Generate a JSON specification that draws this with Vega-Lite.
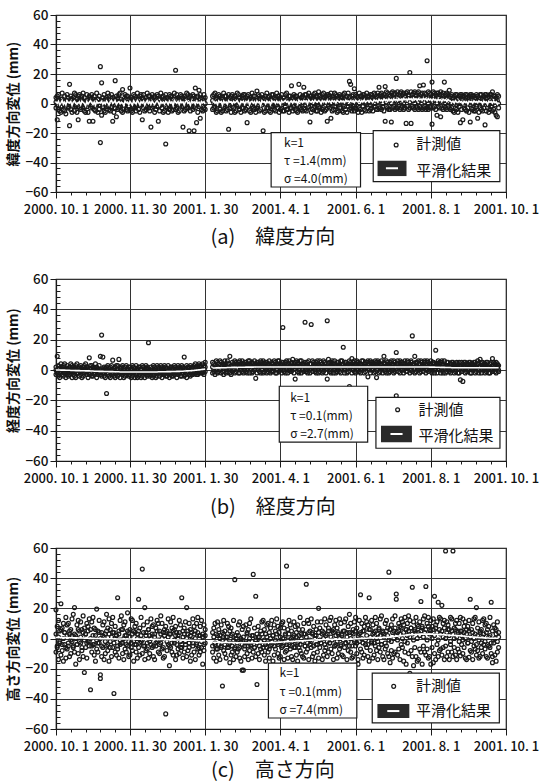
{
"$schema": "https://vega.github.io/schema/vega-lite/v6.json",
"background": "white",
"padding": {"left": 6, "top": 7, "right": 0, "bottom": 0},
"bounds": "flush",
"spacing": 87,
"config": {
 "font": "Noto Sans CJK JP",
 "view": {"stroke": "#1a1a1a", "strokeWidth": 1.2},
 "axis": {"domainColor": "#1a1a1a", "domainWidth": 1.2, "tickColor": "#1a1a1a", "tickWidth": 1, "tickSize": 6, "gridColor": "#333", "gridWidth": 1, "gridOpacity": 1, "labelColor": "#111", "labelFont": "Noto Sans CJK JP", "labelFontWeight": 500, "titleFont": "Noto Sans CJK JP", "titleColor": "#111", "labelPadding": 2},
 "axisX": {"labelFontSize": 13, "labelPadding": 5},
 "axisY": {"labelFontSize": 13.5, "titleFontSize": 14, "titleFontWeight": "bold", "titlePadding": 4},
 "point": {"filled": false, "size": 15, "color": "#1a1a1a", "strokeWidth": 1.25, "opacity": 1},
 "line": {"color": "white", "strokeWidth": 1.6},
 "rect": {"color": "white", "stroke": "#1a1a1a", "strokeWidth": 1.2},
 "text": {"align": "left", "baseline": "middle", "fontSize": 12, "color": "#111", "font": "Noto Sans CJK JP"},
 "rule": {"color": "white", "strokeWidth": 2},
 "title": {"fontSize": 20, "fontWeight": "normal", "color": "#111", "orient": "bottom", "anchor": "middle", "frame": "bounds", "font": "Noto Sans CJK JP"}
},
"datasets": {"gps": [
{"t":0,"n1":4,"n2":-3,"n3":1,"e1":2,"e2":-3,"e3":0,"h1":19,"h2":-9,"h3":3,"ns":1.2,"es":0,"hs":0.7},
{"t":1,"n1":-11,"n2":5,"n3":-1,"e1":9,"e2":-2,"e3":-1,"h1":-6,"h2":8,"h3":-5,"ns":0.1,"es":0,"hs":0.7},
{"t":2,"n1":6,"n2":-4,"n3":2,"e1":-4,"e2":3,"e3":1,"h1":12,"h2":-14,"h3":1,"ns":1.5,"es":0,"hs":0.7},
{"t":3,"n1":-5,"n2":2,"n3":0,"e1":1,"e2":-5,"e3":-2,"h1":-3,"h2":5,"h3":-2,"ns":-0.8,"es":0,"hs":0.7},
{"t":4,"n1":3,"n2":-6,"n3":-2,"e1":4,"e2":-1,"e3":0,"h1":23,"h2":-11,"h3":6,"ns":0.4,"es":-0.1,"hs":0.6},
{"t":5,"n1":7,"n2":-2,"n3":3,"e1":-3,"e2":2,"e3":1,"h1":7,"h2":-8,"h3":-4,"ns":2.0,"es":-0.1,"hs":0.6},
{"t":6,"n1":-4,"n2":1,"n3":1,"e1":3,"e2":-4,"e3":-1,"h1":-15,"h2":10,"h3":0,"ns":-0.5,"es":-0.1,"hs":0.6},
{"t":7,"n1":5,"n2":-5,"n3":-1,"e1":-2,"e2":4,"e3":0,"h1":4,"h2":-4,"h3":4,"ns":0.9,"es":-0.1,"hs":0.6},
{"t":8,"n1":2,"n2":-7,"n3":0,"e1":0,"e2":-5,"e3":-2,"h1":14,"h2":-13,"h3":-6,"ns":-1.0,"es":-0.2,"hs":0.6},
{"t":9,"n1":6,"n2":-1,"n3":2,"e1":3,"e2":-3,"e3":1,"h1":-7,"h2":9,"h3":2,"ns":1.8,"es":-0.2,"hs":0.5},
{"t":10,"n1":-3,"n2":4,"n3":-2,"e1":-4,"e2":1,"e3":-1,"h1":10,"h2":-5,"h3":-3,"ns":0.6,"es":-0.2,"hs":0.5},
{"t":11,"n1":13,"n2":-15,"n3":1,"e1":2,"e2":-3,"e3":0,"h1":-12,"h2":3,"h3":5,"ns":0.3,"es":-0.2,"hs":0.5},
{"t":12,"n1":5,"n2":-4,"n3":3,"e1":-1,"e2":4,"e3":-2,"h1":6,"h2":-10,"h3":-1,"ns":1.4,"es":-0.3,"hs":0.5},
{"t":13,"n1":-6,"n2":3,"n3":-1,"e1":3,"e2":-5,"e3":1,"h1":-2,"h2":13,"h3":2,"ns":-1.3,"es":-0.3,"hs":0.5},
{"t":14,"n1":4,"n2":-2,"n3":0,"e1":-3,"e2":2,"e3":-1,"h1":16,"h2":-6,"h3":-5,"ns":0.9,"es":-0.3,"hs":0.4},
{"t":15,"n1":7,"n2":-5,"n3":2,"e1":1,"e2":-4,"e3":0,"h1":20.5,"h2":-9,"h3":3,"ns":1.7,"es":-0.3,"hs":0.4},
{"t":16,"n1":-2,"n2":6,"n3":-1,"e1":-5,"e2":3,"e3":1,"h1":-17,"h2":2,"h3":0,"ns":0.2,"es":-0.4,"hs":0.4},
{"t":17,"n1":3,"n2":-6,"n3":1,"e1":4,"e2":-2,"e3":-2,"h1":9,"h2":-4,"h3":-4,"ns":-0.6,"es":-0.4,"hs":0.4},
{"t":18,"n1":-11,"n2":5,"n3":-2,"e1":-2,"e2":1,"e3":0,"h1":-10,"h2":12,"h3":6,"ns":0.4,"es":-0.4,"hs":0.3},
{"t":19,"n1":6,"n2":-3,"n3":2,"e1":2,"e2":-4,"e3":-1,"h1":5,"h2":-14,"h3":-2,"ns":1.1,"es":-0.4,"hs":0.3},
{"t":20,"n1":-4,"n2":2,"n3":0,"e1":-3,"e2":3,"e3":1,"h1":11,"h2":-3,"h3":1,"ns":-0.9,"es":-0.5,"hs":0.3},
{"t":21,"n1":5,"n2":-1,"n3":3,"e1":1,"e2":-5,"e3":-1,"h1":-8,"h2":6,"h3":-6,"ns":1.6,"es":-0.5,"hs":0.3},
{"t":22,"n1":-3,"n2":7,"n3":1,"e1":-4,"e2":2,"e3":0,"h1":15,"h2":-12,"h3":4,"ns":0.7,"es":-0.5,"hs":0.3},
{"t":23,"n1":4,"n2":-5,"n3":-2,"e1":3,"e2":-2,"e3":-2,"h1":-22.5,"h2":7,"h3":-1,"ns":0.0,"es":-0.5,"hs":0.2},
{"t":24,"n1":-6,"n2":1,"n3":-1,"e1":-1,"e2":4,"e3":1,"h1":3,"h2":-6,"h3":3,"ns":-1.6,"es":-0.6,"hs":0.2},
{"t":25,"n1":6,"n2":-2,"n3":2,"e1":2,"e2":-3,"e3":-1,"h1":-13,"h2":10,"h3":-3,"ns":1.3,"es":-0.6,"hs":0.2},
{"t":26,"n1":2,"n2":-6,"n3":0,"e1":-5,"e2":1,"e3":0,"h1":8,"h2":-2,"h3":5,"ns":-0.4,"es":-0.6,"hs":0.2},
{"t":27,"n1":-12,"n2":5,"n3":1,"e1":8,"e2":-3,"e3":-3,"h1":-5,"h2":13,"h3":-2,"ns":0.8,"es":-0.6,"hs":0.1},
{"t":28,"n1":4,"n2":-3,"n3":3,"e1":-2,"e2":3,"e3":1,"h1":-34,"h2":6,"h3":0,"ns":1.9,"es":-0.7,"hs":0.1},
{"t":29,"n1":-2,"n2":6,"n3":-1,"e1":3,"e2":-4,"e3":-1,"h1":11,"h2":-9,"h3":-5,"ns":0.5,"es":-0.7,"hs":0.1},
{"t":30,"n1":-12,"n2":3,"n3":1,"e1":-4,"e2":2,"e3":0,"h1":-4,"h2":14,"h3":2,"ns":-0.7,"es":-0.7,"hs":0.1},
{"t":31,"n1":5,"n2":-4,"n3":-2,"e1":1,"e2":-3,"e3":-2,"h1":7,"h2":-11,"h3":-4,"ns":1.0,"es":-0.8,"hs":0.1},
{"t":32,"n1":-5,"n2":2,"n3":2,"e1":-2,"e2":4,"e3":1,"h1":-15,"h2":2,"h3":6,"ns":-1.2,"es":-0.8,"hs":0.0},
{"t":33,"n1":7,"n2":-1,"n3":0,"e1":2,"e2":-5,"e3":-1,"h1":19.5,"h2":-7,"h3":-1,"ns":1.5,"es":-0.8,"hs":0.0},
{"t":34,"n1":3,"n2":-6,"n3":3,"e1":-3,"e2":1,"e3":0,"h1":-9,"h2":5,"h3":-3,"ns":0.2,"es":-0.8,"hs":0.0},
{"t":35,"n1":-4,"n2":5,"n3":-1,"e1":3,"e2":-2,"e3":-2,"h1":12,"h2":-3,"h3":4,"ns":0.6,"es":-0.9,"hs":0.0},
{"t":36,"n1":25,"n2":-26.5,"n3":1,"e1":9,"e2":-3,"e3":0,"h1":-26.5,"h2":-24,"h3":0,"ns":0.3,"es":-0.9,"hs":-0.1},
{"t":37,"n1":14,"n2":-8,"n3":2,"e1":23,"e2":-4,"e3":-1,"h1":4,"h2":-12,"h3":-5,"ns":1.4,"es":-0.9,"hs":-0.1},
{"t":38,"n1":-3,"n2":4,"n3":-2,"e1":8.5,"e2":-2,"e3":1,"h1":9,"h2":-6,"h3":2,"ns":-0.5,"es":-0.9,"hs":-0.1},
{"t":39,"n1":6,"n2":-5,"n3":0,"e1":-4,"e2":2,"e3":-2,"h1":-14,"h2":11,"h3":1,"ns":0.9,"es":-1.0,"hs":-0.1},
{"t":40,"n1":-6,"n2":3,"n3":2,"e1":1,"e2":-5,"e3":-1,"h1":3,"h2":-10,"h3":-2,"ns":-0.3,"es":-1.0,"hs":-0.1},
{"t":41,"n1":4,"n2":-2,"n3":1,"e1":-15.5,"e2":2,"e3":0,"h1":16,"h2":-5,"h3":5,"ns":1.7,"es":-1.0,"hs":-0.2},
{"t":42,"n1":-2,"n2":7,"n3":-1,"e1":-3,"e2":3,"e3":-2,"h1":-8,"h2":7,"h3":-4,"ns":0.4,"es":-1.0,"hs":-0.2},
{"t":43,"n1":5,"n2":-4,"n3":3,"e1":1,"e2":-4,"e3":1,"h1":13,"h2":-15,"h3":3,"ns":-1.1,"es":-1.1,"hs":-0.2},
{"t":44,"n1":-5,"n2":2,"n3":0,"e1":-5,"e2":2,"e3":-1,"h1":-2,"h2":6,"h3":-6,"ns":1.2,"es":-1.1,"hs":-0.2},
{"t":45,"n1":6,"n2":-3,"n3":-2,"e1":3,"e2":-3,"e3":0,"h1":10,"h2":-12,"h3":1,"ns":2.1,"es":-1.1,"hs":-0.2},
{"t":46,"n1":-12,"n2":4,"n3":1,"e1":6.5,"e2":-2,"e3":-3,"h1":-6,"h2":14,"h3":4,"ns":0.1,"es":-1.1,"hs":-0.2},
{"t":47,"n1":3,"n2":-6,"n3":2,"e1":-4,"e2":1,"e3":0,"h1":-36.5,"h2":4,"h3":-3,"ns":0.8,"es":-1.2,"hs":-0.3},
{"t":48,"n1":15.5,"n2":-3,"n3":-1,"e1":2,"e2":-5,"e3":-1,"h1":8,"h2":-9,"h3":0,"ns":1.9,"es":-1.2,"hs":-0.3},
{"t":49,"n1":-9,"n2":5,"n3":0,"e1":-2,"e2":3,"e3":-2,"h1":-11,"h2":2,"h3":2,"ns":-0.6,"es":-1.2,"hs":-0.3},
{"t":50,"n1":4,"n2":-4,"n3":3,"e1":3,"e2":-4,"e3":0,"h1":27,"h2":-7,"h3":-5,"ns":0.7,"es":-1.2,"hs":-0.3},
{"t":51,"n1":-3,"n2":6,"n3":1,"e1":7,"e2":-3,"e3":-1,"h1":5,"h2":-13,"h3":3,"ns":1.3,"es":-1.2,"hs":-0.3},
{"t":52,"n1":7,"n2":-2,"n3":-2,"e1":-5,"e2":1,"e3":-2,"h1":-4,"h2":12,"h3":-1,"ns":-0.2,"es":-1.3,"hs":-0.3},
{"t":53,"n1":-5,"n2":3,"n3":0,"e1":2,"e2":-2,"e3":1,"h1":15,"h2":-3,"h3":6,"ns":1.0,"es":-1.3,"hs":-0.3},
{"t":54,"n1":9.5,"n2":-6,"n3":2,"e1":-3,"e2":3,"e3":-1,"h1":-10,"h2":6,"h3":-3,"ns":0.4,"es":-1.3,"hs":-0.3},
{"t":55,"n1":2,"n2":-4,"n3":-1,"e1":1,"e2":-5,"e3":0,"h1":9,"h2":-14,"h3":0,"ns":-1.4,"es":-1.3,"hs":-0.3},
{"t":56,"n1":6,"n2":-1,"n3":1,"e1":-4,"e2":2,"e3":-2,"h1":-7,"h2":11,"h3":2,"ns":1.6,"es":-1.3,"hs":-0.3},
{"t":57,"n1":-4,"n2":5,"n3":3,"e1":3,"e2":-3,"e3":-1,"h1":2,"h2":-9,"h3":-4,"ns":0.5,"es":-1.3,"hs":-0.3},
{"t":58,"n1":5,"n2":-5,"n3":0,"e1":-2,"e2":1,"e3":0,"h1":17,"h2":-5,"h3":5,"ns":0.9,"es":-1.3,"hs":-0.3},
{"t":59,"n1":-2,"n2":3,"n3":-2,"e1":2,"e2":-4,"e3":-3,"h1":-12,"h2":4,"h3":-2,"ns":-0.8,"es":-1.3,"hs":-0.3},
{"t":60,"n1":10.5,"n2":-4,"n3":1,"e1":-3,"e2":2,"e3":-1,"h1":6,"h2":-11,"h3":1,"ns":1.4,"es":-1.3,"hs":-0.3},
{"t":61,"n1":-5,"n2":4,"n3":2,"e1":1,"e2":-5,"e3":0,"h1":-3,"h2":13,"h3":-6,"ns":0.2,"es":-1.3,"hs":-0.3},
{"t":62,"n1":3,"n2":-6,"n3":-1,"e1":-4,"e2":3,"e3":-2,"h1":12,"h2":-8,"h3":3,"ns":-1.0,"es":-1.3,"hs":-0.3},
{"t":63,"n1":6,"n2":-2,"n3":0,"e1":2,"e2":-2,"e3":-1,"h1":-15,"h2":5,"h3":-2,"ns":1.8,"es":-1.3,"hs":-0.4},
{"t":64,"n1":-3,"n2":5,"n3":3,"e1":-1,"e2":-5,"e3":1,"h1":8,"h2":-4,"h3":4,"ns":0.6,"es":-1.3,"hs":-0.4},
{"t":65,"n1":4,"n2":-5,"n3":-2,"e1":3,"e2":-3,"e3":-2,"h1":-9,"h2":10,"h3":-4,"ns":-0.3,"es":-1.3,"hs":-0.4},
{"t":66,"n1":7,"n2":-1,"n3":1,"e1":-5,"e2":1,"e3":0,"h1":3,"h2":-13,"h3":0,"ns":2.0,"es":-1.3,"hs":-0.4},
{"t":67,"n1":-4,"n2":3,"n3":0,"e1":2,"e2":-4,"e3":-1,"h1":26,"h2":-6,"h3":5,"ns":0.8,"es":-1.3,"hs":-0.4},
{"t":68,"n1":5,"n2":-6,"n3":2,"e1":-3,"e2":2,"e3":-3,"h1":-11,"h2":7,"h3":-3,"ns":-0.9,"es":-1.3,"hs":-0.4},
{"t":69,"n1":-1,"n2":6,"n3":-1,"e1":1,"e2":-5,"e3":0,"h1":14,"h2":-2,"h3":2,"ns":1.1,"es":-1.3,"hs":-0.4},
{"t":70,"n1":-11,"n2":4,"n3":0,"e1":-4,"e2":3,"e3":-2,"h1":46,"h2":-10,"h3":-1,"ns":0.3,"es":-1.3,"hs":-0.4},
{"t":71,"n1":6,"n2":-3,"n3":3,"e1":2,"e2":-2,"e3":-1,"h1":-5,"h2":9,"h3":4,"ns":1.5,"es":-1.3,"hs":-0.5},
{"t":72,"n1":-5,"n2":2,"n3":1,"e1":-2,"e2":-5,"e3":0,"h1":20.5,"h2":-14,"h3":-5,"ns":-1.2,"es":-1.3,"hs":-0.5},
{"t":73,"n1":4,"n2":-4,"n3":-2,"e1":3,"e2":1,"e3":-2,"h1":-8,"h2":4,"h3":2,"ns":0.7,"es":-1.3,"hs":-0.5},
{"t":74,"n1":7,"n2":-2,"n3":2,"e1":-4,"e2":2,"e3":1,"h1":11,"h2":-7,"h3":-3,"ns":1.9,"es":-1.3,"hs":-0.5},
{"t":75,"n1":-3,"n2":5,"n3":0,"e1":18,"e2":-3,"e3":-1,"h1":-13,"h2":6,"h3":6,"ns":0.0,"es":-1.3,"hs":-0.5},
{"t":76,"n1":5,"n2":-5,"n3":-1,"e1":-1,"e2":-4,"e3":-2,"h1":2,"h2":-10,"h3":-2,"ns":1.2,"es":-1.3,"hs":-0.5},
{"t":77,"n1":-16,"n2":3,"n3":1,"e1":2,"e2":-3,"e3":0,"h1":13,"h2":-4,"h3":0,"ns":-0.5,"es":-1.3,"hs":-0.5},
{"t":78,"n1":6,"n2":-3,"n3":3,"e1":-5,"e2":1,"e3":-1,"h1":-6,"h2":8,"h3":3,"ns":1.6,"es":-1.3,"hs":-0.6},
{"t":79,"n1":-2,"n2":4,"n3":-1,"e1":3,"e2":-4,"e3":-3,"h1":9,"h2":-12,"h3":-5,"ns":0.4,"es":-1.3,"hs":-0.6},
{"t":80,"n1":5,"n2":-6,"n3":2,"e1":-3,"e2":2,"e3":0,"h1":-14,"h2":3,"h3":1,"ns":-0.7,"es":-1.3,"hs":-0.6},
{"t":81,"n1":-4,"n2":2,"n3":0,"e1":1,"e2":-5,"e3":-1,"h1":7,"h2":-5,"h3":-3,"ns":0.9,"es":-1.3,"hs":-0.6},
{"t":82,"n1":6,"n2":-2,"n3":1,"e1":-4,"e2":3,"e3":-2,"h1":-2,"h2":12,"h3":5,"ns":1.8,"es":-1.3,"hs":-0.6},
{"t":83,"n1":-12,"n2":5,"n3":-2,"e1":2,"e2":-2,"e3":1,"h1":10,"h2":-9,"h3":-1,"ns":0.6,"es":-1.2,"hs":-0.7},
{"t":84,"n1":3,"n2":-5,"n3":3,"e1":-2,"e2":-4,"e3":-1,"h1":-10,"h2":5,"h3":-4,"ns":-1.1,"es":-1.2,"hs":-0.7},
{"t":85,"n1":7,"n2":-1,"n3":-1,"e1":3,"e2":1,"e3":-2,"h1":15,"h2":-3,"h3":3,"ns":1.3,"es":-1.2,"hs":-0.7},
{"t":86,"n1":-3,"n2":4,"n3":0,"e1":-5,"e2":2,"e3":0,"h1":-7,"h2":10,"h3":0,"ns":0.2,"es":-1.2,"hs":-0.7},
{"t":87,"n1":5,"n2":-6,"n3":2,"e1":1,"e2":-3,"e3":-1,"h1":4,"h2":-13,"h3":-6,"ns":1.0,"es":-1.2,"hs":-0.7},
{"t":88,"n1":-5,"n2":3,"n3":1,"e1":-3,"e2":3,"e3":-2,"h1":-12,"h2":6,"h3":2,"ns":-0.4,"es":-1.2,"hs":-0.8},
{"t":89,"n1":-27.5,"n2":6,"n3":-2,"e1":2,"e2":-4,"e3":1,"h1":-50,"h2":8,"h3":4,"ns":1.5,"es":-1.2,"hs":-0.8},
{"t":90,"n1":4,"n2":-3,"n3":1,"e1":-4,"e2":1,"e3":-1,"h1":5,"h2":-8,"h3":-2,"ns":0.8,"es":-1.1,"hs":-0.8},
{"t":91,"n1":-6,"n2":2,"n3":3,"e1":3,"e2":-2,"e3":-2,"h1":-4,"h2":13,"h3":1,"ns":-0.6,"es":-1.1,"hs":-0.8},
{"t":92,"n1":6,"n2":-4,"n3":-1,"e1":-1,"e2":-5,"e3":0,"h1":-18,"h2":3,"h3":-5,"ns":1.7,"es":-1.1,"hs":-0.8},
{"t":93,"n1":-2,"n2":5,"n3":0,"e1":2,"e2":-3,"e3":-1,"h1":11,"h2":-6,"h3":3,"ns":0.3,"es":-1.1,"hs":-0.9},
{"t":94,"n1":5,"n2":-5,"n3":2,"e1":-4,"e2":2,"e3":1,"h1":-9,"h2":7,"h3":-3,"ns":1.1,"es":-1.0,"hs":-0.9},
{"t":95,"n1":-4,"n2":3,"n3":-2,"e1":1,"e2":-4,"e3":-2,"h1":14,"h2":-11,"h3":5,"ns":-1.3,"es":-1.0,"hs":-0.9},
{"t":96,"n1":7,"n2":-2,"n3":1,"e1":-3,"e2":3,"e3":-1,"h1":-3,"h2":6,"h3":-1,"ns":2.1,"es":-1.0,"hs":-0.9},
{"t":97,"n1":22.5,"n2":-4,"n3":0,"e1":2,"e2":-2,"e3":0,"h1":8,"h2":-14,"h3":2,"ns":0.9,"es":-1.0,"hs":-1.0},
{"t":98,"n1":-3,"n2":6,"n3":3,"e1":-5,"e2":1,"e3":-2,"h1":-11,"h2":4,"h3":-4,"ns":0.1,"es":-0.9,"hs":-1.0},
{"t":99,"n1":4,"n2":-6,"n3":-1,"e1":3,"e2":-3,"e3":1,"h1":2,"h2":-7,"h3":0,"ns":1.4,"es":-0.9,"hs":-1.0},
{"t":100,"n1":-5,"n2":3,"n3":0,"e1":-2,"e2":2,"e3":-1,"h1":12,"h2":-10,"h3":4,"ns":-0.7,"es":-0.9,"hs":-1.0},
{"t":101,"n1":6,"n2":-1,"n3":2,"e1":1,"e2":-4,"e3":0,"h1":-6,"h2":9,"h3":-2,"ns":1.6,"es":-0.8,"hs":-1.0},
{"t":102,"n1":-2,"n2":5,"n3":1,"e1":-4,"e2":3,"e3":-2,"h1":27,"h2":-4,"h3":-6,"ns":0.5,"es":-0.8,"hs":-1.1},
{"t":103,"n1":-16,"n2":4,"n3":-2,"e1":2,"e2":-2,"e3":1,"h1":-13,"h2":5,"h3":1,"ns":1.0,"es":-0.8,"hs":-1.1},
{"t":104,"n1":5,"n2":-5,"n3":1,"e1":8.5,"e2":-4,"e3":-1,"h1":7,"h2":-9,"h3":3,"ns":-0.9,"es":-0.7,"hs":-1.1},
{"t":105,"n1":-4,"n2":2,"n3":3,"e1":-3,"e2":1,"e3":0,"h1":-2,"h2":11,"h3":-4,"ns":1.2,"es":-0.7,"hs":-1.1},
{"t":106,"n1":7,"n2":-3,"n3":-1,"e1":3,"e2":-5,"e3":-2,"h1":20.5,"h2":-12,"h3":0,"ns":1.9,"es":-0.6,"hs":-1.2},
{"t":107,"n1":-3,"n2":6,"n3":0,"e1":-1,"e2":2,"e3":1,"h1":-8,"h2":3,"h3":5,"ns":0.2,"es":-0.6,"hs":-1.2},
{"t":108,"n1":-18.5,"n2":4,"n3":2,"e1":2,"e2":-3,"e3":0,"h1":10,"h2":-6,"h3":-3,"ns":0.8,"es":-0.5,"hs":-1.2},
{"t":109,"n1":5,"n2":-5,"n3":-1,"e1":-4,"e2":3,"e3":-1,"h1":-15,"h2":6,"h3":2,"ns":-1.0,"es":-0.5,"hs":-1.2},
{"t":110,"n1":-2,"n2":3,"n3":3,"e1":1,"e2":-3,"e3":1,"h1":4,"h2":-11,"h3":-1,"ns":1.5,"es":-0.4,"hs":-1.3},
{"t":111,"n1":6,"n2":-4,"n3":0,"e1":-3,"e2":2,"e3":-1,"h1":13,"h2":-3,"h3":-5,"ns":0.6,"es":-0.3,"hs":-1.3},
{"t":112,"n1":-18.5,"n2":5,"n3":-2,"e1":3,"e2":-2,"e3":0,"h1":-9,"h2":8,"h3":3,"ns":1.1,"es":-0.3,"hs":-1.3},
{"t":113,"n1":10.5,"n2":-3,"n3":1,"e1":-2,"e2":4,"e3":2,"h1":5,"h2":-14,"h3":0,"ns":-0.5,"es":-0.2,"hs":-1.3},
{"t":114,"n1":-13,"n2":4,"n3":2,"e1":2,"e2":-3,"e3":-1,"h1":-4,"h2":10,"h3":-3,"ns":1.7,"es":-0.1,"hs":-1.4},
{"t":115,"n1":5,"n2":-6,"n3":-1,"e1":-3,"e2":3,"e3":1,"h1":14,"h2":-7,"h3":4,"ns":0.3,"es":0.0,"hs":-1.4},
{"t":116,"n1":9,"n2":-2,"n3":0,"e1":4,"e2":-2,"e3":0,"h1":-11,"h2":2,"h3":-6,"ns":0.9,"es":0.1,"hs":-1.4},
{"t":117,"n1":-10,"n2":6,"n3":3,"e1":-1,"e2":3,"e3":2,"h1":8,"h2":-9,"h3":2,"ns":-0.8,"es":0.2,"hs":-1.4},
{"t":118,"n1":4,"n2":-4,"n3":1,"e1":3,"e2":-2,"e3":-1,"h1":-6,"h2":12,"h3":-2,"ns":1.3,"es":0.3,"hs":-1.5},
{"t":119,"n1":-5,"n2":3,"n3":-2,"e1":-2,"e2":4,"e3":1,"h1":-17,"h2":3,"h3":1,"ns":0.4,"es":0.4,"hs":-1.5},
{"t":120,"n1":6,"n2":-3,"n3":2,"e1":2,"e2":-3,"e3":0,"h1":9,"h2":-8,"h3":-4,"ns":1.2,"es":0.5,"hs":-1.5},
{"t":121,"n1":-4,"n2":4,"n3":0,"e1":5,"e2":-1,"e3":2,"h1":-3,"h2":6,"h3":2,"ns":-0.3,"es":0.6,"hs":-1.5},
{"t":127,"n1":5,"n2":-4,"n3":2,"e1":5,"e2":-2,"e3":2,"h1":-9,"h2":4,"h3":-5,"ns":0.8,"es":1.3,"hs":-2.5},
{"t":128,"n1":-3,"n2":6,"n3":0,"e1":-1,"e2":4,"e3":0,"h1":7,"h2":-13,"h3":1,"ns":1.5,"es":1.3,"hs":-2.5},
{"t":129,"n1":7,"n2":-2,"n3":1,"e1":3,"e2":-3,"e3":3,"h1":-4,"h2":10,"h3":-3,"ns":0.2,"es":1.3,"hs":-2.5},
{"t":130,"n1":-6,"n2":3,"n3":3,"e1":6,"e2":0,"e3":1,"h1":-15,"h2":3,"h3":-7,"ns":1.1,"es":1.4,"hs":-2.5},
{"t":131,"n1":4,"n2":-5,"n3":-1,"e1":-2,"e2":5,"e3":2,"h1":11,"h2":-7,"h3":2,"ns":-0.6,"es":1.4,"hs":-2.5},
{"t":132,"n1":6,"n2":-1,"n3":2,"e1":4,"e2":-1,"e3":4,"h1":-11,"h2":6,"h3":-4,"ns":1.8,"es":1.4,"hs":-2.6},
{"t":133,"n1":-4,"n2":5,"n3":0,"e1":0,"e2":6,"e3":0,"h1":2,"h2":-14,"h3":0,"ns":0.7,"es":1.4,"hs":-2.6},
{"t":134,"n1":3,"n2":-6,"n3":1,"e1":5,"e2":-2,"e3":2,"h1":9,"h2":-5,"h3":-6,"ns":1.3,"es":1.5,"hs":-2.6},
{"t":135,"n1":-5,"n2":4,"n3":3,"e1":-1,"e2":3,"e3":3,"h1":-31.5,"h2":4,"h3":-1,"ns":-1.0,"es":1.5,"hs":-2.6},
{"t":136,"n1":7,"n2":-3,"n3":-1,"e1":4,"e2":-3,"e3":1,"h1":-8,"h2":12,"h3":3,"ns":1.6,"es":1.5,"hs":-2.6},
{"t":137,"n1":-2,"n2":5,"n3":1,"e1":2,"e2":6,"e3":3,"h1":5,"h2":-10,"h3":-4,"ns":0.4,"es":1.5,"hs":-2.6},
{"t":138,"n1":5,"n2":-5,"n3":2,"e1":-2,"e2":4,"e3":0,"h1":-13,"h2":1,"h3":-2,"ns":1.0,"es":1.5,"hs":-2.7},
{"t":139,"n1":-4,"n2":2,"n3":0,"e1":6,"e2":-1,"e3":2,"h1":10,"h2":-6,"h3":1,"ns":-0.5,"es":1.6,"hs":-2.7},
{"t":140,"n1":-17.5,"n2":6,"n3":3,"e1":1,"e2":4,"e3":4,"h1":-4,"h2":8,"h3":-6,"ns":1.9,"es":1.6,"hs":-2.7},
{"t":141,"n1":4,"n2":-3,"n3":-1,"e1":9,"e2":-2,"e3":1,"h1":-16,"h2":5,"h3":-3,"ns":0.8,"es":1.6,"hs":-2.7},
{"t":142,"n1":-6,"n2":5,"n3":2,"e1":3,"e2":-3,"e3":2,"h1":7,"h2":-11,"h3":2,"ns":1.2,"es":1.6,"hs":-2.7},
{"t":143,"n1":6,"n2":-2,"n3":1,"e1":-1,"e2":5,"e3":3,"h1":-9,"h2":3,"h3":-5,"ns":-0.2,"es":1.7,"hs":-2.7},
{"t":144,"n1":-3,"n2":4,"n3":0,"e1":4,"e2":0,"e3":0,"h1":12,"h2":-14,"h3":-1,"ns":1.5,"es":1.7,"hs":-2.7},
{"t":145,"n1":5,"n2":-6,"n3":3,"e1":-2,"e2":6,"e3":2,"h1":39,"h2":-6,"h3":-7,"ns":0.6,"es":1.7,"hs":-2.7},
{"t":146,"n1":-5,"n2":3,"n3":2,"e1":5,"e2":-1,"e3":4,"h1":-12,"h2":2,"h3":0,"ns":1.1,"es":1.7,"hs":-2.8},
{"t":147,"n1":7,"n2":-1,"n3":-1,"e1":1,"e2":3,"e3":1,"h1":4,"h2":-9,"h3":-3,"ns":2.0,"es":1.7,"hs":-2.8},
{"t":148,"n1":-2,"n2":6,"n3":1,"e1":-2,"e2":5,"e3":3,"h1":-7,"h2":9,"h3":2,"ns":0.3,"es":1.8,"hs":-2.8},
{"t":149,"n1":4,"n2":-4,"n3":2,"e1":6,"e2":-2,"e3":2,"h1":11,"h2":-13,"h3":-6,"ns":-0.8,"es":1.8,"hs":-2.8},
{"t":150,"n1":-6,"n2":2,"n3":0,"e1":2,"e2":4,"e3":0,"h1":-15,"h2":0,"h3":-1,"ns":1.4,"es":1.8,"hs":-2.8},
{"t":151,"n1":5,"n2":-3,"n3":3,"e1":-1,"e2":6,"e3":4,"h1":-21,"h2":6,"h3":-4,"ns":0.7,"es":1.8,"hs":-2.8},
{"t":152,"n1":-3,"n2":6,"n3":1,"e1":4,"e2":-2,"e3":2,"h1":-21,"h2":8,"h3":1,"ns":1.6,"es":1.8,"hs":-2.8},
{"t":153,"n1":6,"n2":-5,"n3":-1,"e1":0,"e2":5,"e3":1,"h1":-5,"h2":-12,"h3":-7,"ns":-0.4,"es":1.8,"hs":-2.8},
{"t":154,"n1":-4,"n2":4,"n3":2,"e1":5,"e2":-1,"e3":3,"h1":9,"h2":-3,"h3":-2,"ns":1.2,"es":1.9,"hs":-2.8},
{"t":155,"n1":-13,"n2":5,"n3":0,"e1":-2,"e2":4,"e3":0,"h1":-10,"h2":4,"h3":3,"ns":0.9,"es":1.9,"hs":-2.8},
{"t":156,"n1":6,"n2":-2,"n3":3,"e1":3,"e2":6,"e3":2,"h1":6,"h2":-14,"h3":-5,"ns":1.8,"es":1.9,"hs":-2.8},
{"t":157,"n1":-5,"n2":3,"n3":1,"e1":6,"e2":-2,"e3":4,"h1":-8,"h2":10,"h3":0,"ns":-0.9,"es":1.9,"hs":-2.8},
{"t":158,"n1":4,"n2":-6,"n3":-1,"e1":1,"e2":3,"e3":1,"h1":13,"h2":-5,"h3":-4,"ns":1.0,"es":1.9,"hs":-2.8},
{"t":159,"n1":7,"n2":-2,"n3":2,"e1":-2,"e2":5,"e3":2,"h1":-13,"h2":2,"h3":-2,"ns":1.5,"es":1.9,"hs":-2.8},
{"t":160,"n1":-3,"n2":5,"n3":3,"e1":4,"e2":-1,"e3":3,"h1":42.5,"h2":-9,"h3":2,"ns":0.2,"es":1.9,"hs":-2.8},
{"t":161,"n1":5,"n2":-4,"n3":0,"e1":0,"e2":6,"e3":0,"h1":-6,"h2":7,"h3":-6,"ns":1.3,"es":2.0,"hs":-2.8},
{"t":162,"n1":-6,"n2":2,"n3":1,"e1":-5.5,"e2":4,"e3":2,"h1":28,"h2":-12,"h3":-1,"ns":-0.5,"es":2.0,"hs":-2.8},
{"t":163,"n1":8.5,"n2":-3,"n3":2,"e1":5,"e2":-2,"e3":4,"h1":-30.5,"h2":3,"h3":-3,"ns":1.7,"es":2.0,"hs":-2.8},
{"t":164,"n1":-2,"n2":6,"n3":-1,"e1":2,"e2":5,"e3":1,"h1":8,"h2":-10,"h3":1,"ns":0.6,"es":2.0,"hs":-2.8},
{"t":165,"n1":5,"n2":-5,"n3":3,"e1":-1,"e2":3,"e3":3,"h1":-14,"h2":1,"h3":-5,"ns":1.1,"es":2.0,"hs":-2.8},
{"t":166,"n1":-4,"n2":3,"n3":0,"e1":6,"e2":-2,"e3":2,"h1":5,"h2":-7,"h3":-2,"ns":-1.2,"es":2.0,"hs":-2.8},
{"t":167,"n1":6,"n2":-1,"n3":2,"e1":3,"e2":5,"e3":0,"h1":-9,"h2":11,"h3":3,"ns":1.9,"es":2.0,"hs":-2.8},
{"t":168,"n1":-18.5,"n2":4,"n3":1,"e1":-2,"e2":6,"e3":3,"h1":12,"h2":-4,"h3":-6,"ns":0.8,"es":2.0,"hs":-2.8},
{"t":169,"n1":3,"n2":-6,"n3":3,"e1":4,"e2":-1,"e3":2,"h1":-11,"h2":6,"h3":-1,"ns":1.3,"es":2.0,"hs":-2.8},
{"t":170,"n1":-5,"n2":5,"n3":0,"e1":1,"e2":5,"e3":4,"h1":3,"h2":-15,"h3":-4,"ns":-0.3,"es":2.0,"hs":-2.8},
{"t":171,"n1":7,"n2":-3,"n3":-1,"e1":5,"e2":-2,"e3":1,"h1":-6,"h2":9,"h3":1,"ns":1.6,"es":2.0,"hs":-2.7},
{"t":172,"n1":-3,"n2":4,"n3":2,"e1":-1,"e2":4,"e3":2,"h1":10,"h2":-9,"h3":-3,"ns":0.5,"es":2.0,"hs":-2.7},
{"t":173,"n1":5,"n2":-5,"n3":1,"e1":6,"e2":0,"e3":0,"h1":-13,"h2":4,"h3":-7,"ns":1.2,"es":2.0,"hs":-2.7},
{"t":174,"n1":-6,"n2":2,"n3":3,"e1":2,"e2":-2,"e3":3,"h1":7,"h2":-5,"h3":0,"ns":-0.7,"es":2.0,"hs":-2.7},
{"t":175,"n1":6,"n2":-2,"n3":0,"e1":-1,"e2":5,"e3":4,"h1":-4,"h2":12,"h3":-2,"ns":2.0,"es":2.0,"hs":-2.7},
{"t":176,"n1":-2,"n2":6,"n3":2,"e1":4,"e2":-1,"e3":1,"h1":-15,"h2":2,"h3":2,"ns":0.9,"es":2.0,"hs":-2.6},
{"t":177,"n1":4,"n2":-4,"n3":-1,"e1":1,"e2":6,"e3":2,"h1":9,"h2":-11,"h3":-5,"ns":1.4,"es":2.0,"hs":-2.6},
{"t":178,"n1":-5,"n2":3,"n3":3,"e1":5,"e2":-2,"e3":3,"h1":-7,"h2":5,"h3":-1,"ns":0.1,"es":2.0,"hs":-2.6},
{"t":179,"n1":7,"n2":-1,"n3":1,"e1":-2,"e2":4,"e3":0,"h1":13,"h2":-3,"h3":3,"ns":1.7,"es":2.0,"hs":-2.5},
{"t":180,"n1":-3,"n2":5,"n3":2,"e1":3,"e2":6,"e3":4,"h1":-10,"h2":8,"h3":-4,"ns":0.4,"es":2.0,"hs":-2.5},
{"t":181,"n1":5,"n2":-6,"n3":0,"e1":6,"e2":-1,"e3":2,"h1":4,"h2":-13,"h3":-2,"ns":1.1,"es":2.0,"hs":-2.4},
{"t":182,"n1":-4,"n2":4,"n3":3,"e1":0,"e2":4,"e3":1,"h1":-12,"h2":7,"h3":1,"ns":-0.6,"es":2.0,"hs":-2.4},
{"t":183,"n1":6,"n2":-3,"n3":-1,"e1":4,"e2":-2,"e3":3,"h1":10,"h2":-2,"h3":-6,"ns":1.8,"es":2.0,"hs":-2.3},
{"t":184,"n1":-5,"n2":2,"n3":2,"e1":28,"e2":5,"e3":2,"h1":-5,"h2":11,"h3":0,"ns":0.7,"es":2.0,"hs":-2.3},
{"t":185,"n1":4,"n2":-5,"n3":1,"e1":-1,"e2":3,"e3":0,"h1":7,"h2":-14,"h3":-3,"ns":1.3,"es":2.0,"hs":-2.2},
{"t":186,"n1":-2,"n2":6,"n3":0,"e1":5,"e2":-2,"e3":4,"h1":-9,"h2":3,"h3":2,"ns":2.1,"es":2.0,"hs":-2.2},
{"t":187,"n1":7,"n2":-4,"n3":3,"e1":2,"e2":6,"e3":1,"h1":48,"h2":-8,"h3":-4,"ns":0.9,"es":2.0,"hs":-2.1},
{"t":188,"n1":-4,"n2":3,"n3":1,"e1":-2,"e2":4,"e3":3,"h1":-13,"h2":6,"h3":-1,"ns":1.5,"es":2.0,"hs":-2.1},
{"t":189,"n1":5,"n2":-6,"n3":2,"e1":6,"e2":0,"e3":2,"h1":12,"h2":-4,"h3":3,"ns":-0.4,"es":2.0,"hs":-2.0},
{"t":190,"n1":-3,"n2":5,"n3":-1,"e1":3,"e2":-1,"e3":0,"h1":-7,"h2":9,"h3":-5,"ns":1.2,"es":2.0,"hs":-2.0},
{"t":191,"n1":12,"n2":-3,"n3":0,"e1":-1,"e2":5,"e3":4,"h1":5,"h2":-12,"h3":0,"ns":1.6,"es":2.0,"hs":-1.9},
{"t":192,"n1":-5,"n2":4,"n3":3,"e1":7,"e2":2,"e3":2,"h1":-14,"h2":1,"h3":-2,"ns":0.3,"es":2.0,"hs":-1.9},
{"t":193,"n1":6,"n2":-2,"n3":2,"e1":4,"e2":-2,"e3":3,"h1":11,"h2":-6,"h3":2,"ns":1.9,"es":2.0,"hs":-1.8},
{"t":194,"n1":-4,"n2":5,"n3":1,"e1":-6,"e2":5,"e3":1,"h1":-3,"h2":8,"h3":-6,"ns":0.8,"es":2.0,"hs":-1.8},
{"t":195,"n1":5,"n2":-5,"n3":-1,"e1":2,"e2":6,"e3":2,"h1":-11,"h2":4,"h3":1,"ns":1.4,"es":2.0,"hs":-1.7},
{"t":196,"n1":-6,"n2":3,"n3":2,"e1":5,"e2":-1,"e3":4,"h1":9,"h2":-15,"h3":-3,"ns":-0.5,"es":2.0,"hs":-1.7},
{"t":197,"n1":13,"n2":-2,"n3":3,"e1":-2,"e2":4,"e3":0,"h1":-6,"h2":6,"h3":2,"ns":2.2,"es":2.0,"hs":-1.6},
{"t":198,"n1":-3,"n2":6,"n3":0,"e1":3,"e2":6,"e3":2,"h1":14,"h2":-8,"h3":-4,"ns":1.0,"es":2.0,"hs":-1.6},
{"t":199,"n1":4,"n2":-4,"n3":2,"e1":6,"e2":-2,"e3":3,"h1":-10,"h2":3,"h3":0,"ns":1.6,"es":2.0,"hs":-1.5},
{"t":200,"n1":-5,"n2":5,"n3":1,"e1":0,"e2":4,"e3":1,"h1":6,"h2":-12,"h3":-2,"ns":0.6,"es":2.0,"hs":-1.5},
{"t":201,"n1":11,"n2":-3,"n3":4,"e1":4,"e2":-1,"e3":4,"h1":-13,"h2":10,"h3":3,"ns":2.0,"es":2.0,"hs":-1.4},
{"t":202,"n1":-4,"n2":6,"n3":-1,"e1":31.5,"e2":5,"e3":2,"h1":3,"h2":-5,"h3":-5,"ns":1.1,"es":2.0,"hs":-1.4},
{"t":203,"n1":6,"n2":-5,"n3":2,"e1":-1,"e2":3,"e3":0,"h1":36,"h2":-9,"h3":1,"ns":1.7,"es":2.0,"hs":-1.3},
{"t":204,"n1":-3,"n2":4,"n3":3,"e1":5,"e2":-2,"e3":3,"h1":-7,"h2":12,"h3":-3,"ns":-0.2,"es":2.0,"hs":-1.3},
{"t":205,"n1":7,"n2":-2,"n3":0,"e1":2,"e2":6,"e3":2,"h1":10,"h2":-14,"h3":4,"ns":2.3,"es":2.0,"hs":-1.2},
{"t":206,"n1":-12.5,"n2":5,"n3":1,"e1":-2,"e2":4,"e3":1,"h1":-4,"h2":5,"h3":-1,"ns":1.2,"es":2.0,"hs":-1.2},
{"t":207,"n1":5,"n2":-6,"n3":2,"e1":30,"e2":1,"e3":4,"h1":13,"h2":-6,"h3":-2,"ns":0.8,"es":2.0,"hs":-1.1},
{"t":208,"n1":-4,"n2":3,"n3":4,"e1":6,"e2":-1,"e3":2,"h1":-12,"h2":4,"h3":3,"ns":1.8,"es":2.0,"hs":-1.1},
{"t":209,"n1":6,"n2":-3,"n3":0,"e1":3,"e2":5,"e3":3,"h1":8,"h2":-10,"h3":-5,"ns":0.5,"es":2.0,"hs":-1.0},
{"t":210,"n1":-2,"n2":7,"n3":3,"e1":-1,"e2":4,"e3":0,"h1":-15,"h2":2,"h3":0,"ns":2.1,"es":2.0,"hs":-1.0},
{"t":211,"n1":5,"n2":-5,"n3":1,"e1":5,"e2":-2,"e3":2,"h1":6,"h2":-4,"h3":2,"ns":1.3,"es":2.0,"hs":-0.9},
{"t":212,"n1":-5,"n2":4,"n3":-1,"e1":2,"e2":6,"e3":4,"h1":-9,"h2":11,"h3":-4,"ns":0.9,"es":2.0,"hs":-0.9},
{"t":213,"n1":8,"n2":-2,"n3":2,"e1":-2,"e2":3,"e3":1,"h1":20,"h2":-13,"h3":4,"ns":2.0,"es":2.0,"hs":-0.9},
{"t":214,"n1":-3,"n2":5,"n3":3,"e1":6,"e2":-1,"e3":3,"h1":-6,"h2":7,"h3":-1,"ns":1.4,"es":2.0,"hs":-0.8},
{"t":215,"n1":4,"n2":-6,"n3":1,"e1":1,"e2":5,"e3":2,"h1":11,"h2":-3,"h3":-3,"ns":-0.1,"es":2.0,"hs":-0.8},
{"t":216,"n1":-4,"n2":6,"n3":0,"e1":4,"e2":-2,"e3":0,"h1":-14,"h2":5,"h3":3,"ns":1.9,"es":2.0,"hs":-0.8},
{"t":217,"n1":7,"n2":-3,"n3":4,"e1":-1,"e2":6,"e3":3,"h1":4,"h2":-11,"h3":0,"ns":1.0,"es":2.0,"hs":-0.7},
{"t":218,"n1":-5,"n2":4,"n3":2,"e1":5,"e2":2,"e3":2,"h1":-8,"h2":13,"h3":-4,"ns":1.6,"es":2.0,"hs":-0.7},
{"t":219,"n1":5,"n2":-4,"n3":1,"e1":2,"e2":-2,"e3":4,"h1":9,"h2":-6,"h3":2,"ns":0.4,"es":2.0,"hs":-0.7},
{"t":220,"n1":-12,"n2":6,"n3":3,"e1":32.5,"e2":-6,"e3":1,"h1":-12,"h2":3,"h3":-2,"ns":2.2,"es":2.0,"hs":-0.6},
{"t":221,"n1":6,"n2":-2,"n3":-1,"e1":7,"e2":4,"e3":2,"h1":7,"h2":-9,"h3":5,"ns":1.1,"es":2.0,"hs":-0.6},
{"t":222,"n1":-3,"n2":5,"n3":2,"e1":-1,"e2":5,"e3":0,"h1":-3,"h2":12,"h3":-3,"ns":1.5,"es":2.0,"hs":-0.6},
{"t":223,"n1":-10,"n2":7,"n3":0,"e1":5,"e2":-2,"e3":3,"h1":14,"h2":-7,"h3":1,"ns":0.7,"es":2.0,"hs":-0.6},
{"t":224,"n1":5,"n2":-5,"n3":3,"e1":3,"e2":6,"e3":4,"h1":-10,"h2":5,"h3":-1,"ns":2.0,"es":2.0,"hs":-0.5},
{"t":225,"n1":-4,"n2":3,"n3":4,"e1":-2,"e2":4,"e3":2,"h1":6,"h2":-14,"h3":4,"ns":1.2,"es":2.0,"hs":-0.5},
{"t":226,"n1":7,"n2":-2,"n3":1,"e1":6,"e2":0,"e3":1,"h1":-5,"h2":9,"h3":-5,"ns":1.8,"es":2.0,"hs":-0.5},
{"t":227,"n1":-2,"n2":6,"n3":2,"e1":2,"e2":-2,"e3":3,"h1":12,"h2":-4,"h3":2,"ns":0.3,"es":2.0,"hs":-0.5},
{"t":228,"n1":5,"n2":-6,"n3":0,"e1":-1,"e2":5,"e3":0,"h1":-13,"h2":7,"h3":-2,"ns":2.1,"es":2.0,"hs":-0.5},
{"t":229,"n1":-5,"n2":4,"n3":3,"e1":5,"e2":3,"e3":2,"h1":3,"h2":-10,"h3":4,"ns":1.4,"es":2.0,"hs":-0.5},
{"t":230,"n1":6,"n2":-3,"n3":1,"e1":3,"e2":-1,"e3":4,"h1":-7,"h2":13,"h3":0,"ns":0.9,"es":2.0,"hs":-0.5},
{"t":231,"n1":-3,"n2":5,"n3":4,"e1":-2,"e2":6,"e3":1,"h1":10,"h2":-5,"h3":-4,"ns":1.9,"es":2.0,"hs":-0.5},
{"t":232,"n1":4,"n2":-5,"n3":2,"e1":6,"e2":1,"e3":3,"h1":-11,"h2":2,"h3":3,"ns":1.0,"es":2.0,"hs":-0.5},
{"t":233,"n1":-6,"n2":6,"n3":-1,"e1":15,"e2":4,"e3":2,"h1":5,"h2":-12,"h3":-1,"ns":1.6,"es":2.0,"hs":-0.5},
{"t":234,"n1":7,"n2":-2,"n3":3,"e1":1,"e2":-2,"e3":0,"h1":-6,"h2":11,"h3":5,"ns":0.5,"es":2.0,"hs":-0.5},
{"t":235,"n1":-4,"n2":4,"n3":1,"e1":5,"e2":5,"e3":4,"h1":13,"h2":-3,"h3":-3,"ns":2.3,"es":2.0,"hs":-0.5},
{"t":236,"n1":5,"n2":-6,"n3":2,"e1":-2,"e2":3,"e3":2,"h1":-14,"h2":4,"h3":1,"ns":1.3,"es":2.0,"hs":-0.5},
{"t":237,"n1":-2,"n2":7,"n3":0,"e1":4,"e2":-1,"e3":1,"h1":8,"h2":-8,"h3":-2,"ns":1.7,"es":2.0,"hs":-0.5},
{"t":238,"n1":15,"n2":-4,"n3":4,"e1":-11,"e2":6,"e3":3,"h1":16,"h2":-5,"h3":4,"ns":0.8,"es":2.0,"hs":-0.5},
{"t":239,"n1":13,"n2":-3,"n3":2,"e1":5,"e2":2,"e3":2,"h1":-9,"h2":10,"h3":0,"ns":2.0,"es":2.0,"hs":-0.4},
{"t":240,"n1":-5,"n2":5,"n3":3,"e1":7.5,"e2":-2,"e3":4,"h1":4,"h2":-13,"h3":-5,"ns":1.2,"es":2.0,"hs":-0.4},
{"t":241,"n1":6,"n2":-2,"n3":1,"e1":1,"e2":5,"e3":0,"h1":-12,"h2":6,"h3":3,"ns":1.9,"es":2.0,"hs":-0.3},
{"t":242,"n1":10,"n2":-5,"n3":-1,"e1":6,"e2":-1,"e3":2,"h1":11,"h2":-2,"h3":-1,"ns":0.6,"es":2.0,"hs":-0.3},
{"t":243,"n1":-3,"n2":6,"n3":3,"e1":-2,"e2":4,"e3":3,"h1":-5,"h2":14,"h3":5,"ns":2.2,"es":2.0,"hs":-0.2},
{"t":244,"n1":5,"n2":-4,"n3":2,"e1":3,"e2":6,"e3":1,"h1":7,"h2":-10,"h3":-3,"ns":1.4,"es":2.0,"hs":-0.2},
{"t":245,"n1":-6,"n2":4,"n3":4,"e1":5,"e2":0,"e3":4,"h1":-17,"h2":-14,"h3":2,"ns":1.0,"es":2.0,"hs":-0.1},
{"t":246,"n1":7,"n2":-3,"n3":0,"e1":-1,"e2":4,"e3":2,"h1":12,"h2":3,"h3":-2,"ns":2.1,"es":2.0,"hs":-0.1},
{"t":247,"n1":-4,"n2":5,"n3":2,"e1":4,"e2":-2,"e3":0,"h1":29,"h2":-7,"h3":4,"ns":0.7,"es":2.0,"hs":0.0},
{"t":248,"n1":5,"n2":-6,"n3":3,"e1":1,"e2":6,"e3":3,"h1":-9,"h2":10,"h3":0,"ns":1.8,"es":2.0,"hs":0.0},
{"t":249,"n1":-2,"n2":6,"n3":1,"e1":6,"e2":2,"e3":2,"h1":5,"h2":-13,"h3":-3,"ns":1.3,"es":2.0,"hs":0.1},
{"t":250,"n1":6,"n2":-4,"n3":4,"e1":-2,"e2":4,"e3":1,"h1":-11,"h2":8,"h3":5,"ns":2.4,"es":2.0,"hs":0.1},
{"t":251,"n1":-5,"n2":3,"n3":0,"e1":5,"e2":-1,"e3":4,"h1":14,"h2":-4,"h3":-1,"ns":0.9,"es":2.0,"hs":0.2},
{"t":252,"n1":7,"n2":-1,"n3":2,"e1":2,"e2":5,"e3":2,"h1":-6,"h2":11,"h3":2,"ns":1.6,"es":2.0,"hs":0.2},
{"t":253,"n1":-3,"n2":5,"n3":3,"e1":-4.5,"e2":6,"e3":3,"h1":9,"h2":-12,"h3":-4,"ns":2.0,"es":2.0,"hs":0.3},
{"t":254,"n1":5,"n2":-5,"n3":1,"e1":4,"e2":1,"e3":0,"h1":27,"h2":-15,"h3":6,"ns":1.1,"es":2.0,"hs":0.3},
{"t":255,"n1":-4,"n2":6,"n3":-1,"e1":6,"e2":-2,"e3":2,"h1":-8,"h2":6,"h3":1,"ns":2.3,"es":2.0,"hs":0.4},
{"t":256,"n1":6,"n2":-3,"n3":4,"e1":0,"e2":5,"e3":4,"h1":12,"h2":-3,"h3":-2,"ns":1.5,"es":2.0,"hs":0.4},
{"t":257,"n1":-5,"n2":4,"n3":2,"e1":5,"e2":3,"e3":1,"h1":-13,"h2":9,"h3":3,"ns":0.8,"es":2.0,"hs":0.4},
{"t":258,"n1":7,"n2":-2,"n3":3,"e1":-2,"e2":4,"e3":3,"h1":4,"h2":-11,"h3":-3,"ns":2.5,"es":2.0,"hs":0.5},
{"t":259,"n1":-2,"n2":6,"n3":0,"e1":6,"e2":-1,"e3":2,"h1":-5,"h2":14,"h3":5,"ns":1.7,"es":2.0,"hs":0.5},
{"t":260,"n1":5,"n2":-4,"n3":4,"e1":-5,"e2":5,"e3":0,"h1":10,"h2":-8,"h3":0,"ns":2.2,"es":2.0,"hs":0.5},
{"t":261,"n1":-4,"n2":7,"n3":1,"e1":3,"e2":6,"e3":4,"h1":-14,"h2":3,"h3":-2,"ns":1.0,"es":2.0,"hs":0.6},
{"t":262,"n1":11,"n2":-3,"n3":3,"e1":5,"e2":-2,"e3":2,"h1":7,"h2":-6,"h3":6,"ns":2.8,"es":2.0,"hs":0.6},
{"t":263,"n1":-3,"n2":6,"n3":2,"e1":-1,"e2":4,"e3":1,"h1":-9,"h2":13,"h3":2,"ns":1.9,"es":2.0,"hs":0.6},
{"t":264,"n1":7,"n2":-4,"n3":5,"e1":6,"e2":1,"e3":3,"h1":15,"h2":-4,"h3":-4,"ns":2.4,"es":2.0,"hs":0.6},
{"t":265,"n1":-2,"n2":5,"n3":0,"e1":2,"e2":-2,"e3":2,"h1":-12,"h2":5,"h3":4,"ns":1.3,"es":2.0,"hs":0.7},
{"t":266,"n1":6,"n2":-5,"n3":3,"e1":9,"e2":5,"e3":4,"h1":3,"h2":-14,"h3":1,"ns":3.0,"es":2.0,"hs":0.7},
{"t":267,"n1":-12,"n2":11.5,"n3":4,"e1":4,"e2":-1,"e3":0,"h1":-7,"h2":10,"h3":-3,"ns":2.1,"es":2.0,"hs":0.7},
{"t":268,"n1":8,"n2":-2,"n3":1,"e1":-2,"e2":6,"e3":2,"h1":12,"h2":-5,"h3":5,"ns":2.6,"es":2.0,"hs":0.8},
{"t":269,"n1":-3,"n2":7,"n3":3,"e1":5,"e2":2,"e3":3,"h1":-10,"h2":7,"h3":2,"ns":1.5,"es":2.0,"hs":0.8},
{"t":270,"n1":6,"n2":-4,"n3":2,"e1":3,"e2":-2,"e3":1,"h1":44,"h2":-12,"h3":-1,"ns":3.2,"es":2.0,"hs":0.9},
{"t":271,"n1":-4,"n2":5,"n3":5,"e1":-1,"e2":5,"e3":4,"h1":-16,"h2":6,"h3":6,"ns":2.0,"es":2.0,"hs":1.0},
{"t":272,"n1":-12.5,"n2":7,"n3":0,"e1":6,"e2":0,"e3":2,"h1":9,"h2":-8,"h3":-2,"ns":2.7,"es":2.0,"hs":1.1},
{"t":273,"n1":8,"n2":-3,"n3":3,"e1":2,"e2":4,"e3":3,"h1":-13,"h2":13,"h3":4,"ns":1.4,"es":2.0,"hs":1.2},
{"t":274,"n1":-2,"n2":6,"n3":4,"e1":-2,"e2":6,"e3":0,"h1":5,"h2":-10,"h3":0,"ns":3.1,"es":2.0,"hs":1.3},
{"t":275,"n1":7,"n2":-4,"n3":2,"e1":5,"e2":-1,"e3":2,"h1":-9,"h2":15,"h3":7,"ns":2.2,"es":2.0,"hs":1.4},
{"t":276,"n1":17,"n2":-3,"n3":1,"e1":11.5,"e2":-17,"e3":1,"h1":29.5,"h2":26,"h3":2,"ns":2.8,"es":2.0,"hs":1.5},
{"t":277,"n1":-3,"n2":8,"n3":4,"e1":4,"e2":6,"e3":4,"h1":-11,"h2":4,"h3":-1,"ns":1.8,"es":2.0,"hs":1.6},
{"t":278,"n1":6,"n2":-2,"n3":2,"e1":-1,"e2":3,"e3":2,"h1":10,"h2":-7,"h3":5,"ns":3.3,"es":2.0,"hs":1.7},
{"t":279,"n1":-4,"n2":7,"n3":5,"e1":6,"e2":-2,"e3":3,"h1":-14,"h2":8,"h3":3,"ns":2.3,"es":2.0,"hs":1.8},
{"t":280,"n1":8,"n2":-3,"n3":1,"e1":2,"e2":5,"e3":1,"h1":13,"h2":-4,"h3":7,"ns":2.9,"es":2.0,"hs":1.9},
{"t":281,"n1":-2,"n2":6,"n3":3,"e1":5,"e2":0,"e3":0,"h1":-6,"h2":11,"h3":0,"ns":1.6,"es":2.0,"hs":2.0},
{"t":282,"n1":7,"n2":-4,"n3":0,"e1":-2,"e2":4,"e3":2,"h1":-15,"h2":9,"h3":4,"ns":3.4,"es":2.0,"hs":2.1},
{"t":283,"n1":-3,"n2":5,"n3":4,"e1":6,"e2":2,"e3":4,"h1":14,"h2":-9,"h3":-2,"ns":2.5,"es":2.0,"hs":2.2},
{"t":284,"n1":-13.5,"n2":7,"n3":2,"e1":3,"e2":-1,"e3":3,"h1":-17,"h2":6,"h3":6,"ns":3.0,"es":2.0,"hs":2.3},
{"t":285,"n1":8,"n2":-2,"n3":3,"e1":-1,"e2":6,"e3":1,"h1":10,"h2":-3,"h3":2,"ns":1.9,"es":2.0,"hs":2.4},
{"t":286,"n1":-4,"n2":6,"n3":5,"e1":5,"e2":3,"e3":2,"h1":-10,"h2":15,"h3":5,"ns":3.5,"es":2.0,"hs":2.4},
{"t":287,"n1":21,"n2":-3,"n3":1,"e1":2,"e2":-2,"e3":3,"h1":-23,"h2":12,"h3":1,"ns":2.6,"es":2.0,"hs":2.5},
{"t":288,"n1":-13.5,"n2":8,"n3":3,"e1":6,"e2":5,"e3":0,"h1":7,"h2":-8,"h3":7,"ns":3.1,"es":2.0,"hs":2.6},
{"t":289,"n1":6,"n2":-2,"n3":4,"e1":22.5,"e2":-1,"e3":2,"h1":34,"h2":-12,"h3":3,"ns":2.0,"es":2.0,"hs":2.6},
{"t":290,"n1":-3,"n2":7,"n3":2,"e1":4,"e2":3,"e3":4,"h1":-18,"h2":11,"h3":-1,"ns":3.6,"es":2.0,"hs":2.7},
{"t":291,"n1":8,"n2":-4,"n3":0,"e1":9,"e2":-2,"e3":1,"h1":5,"h2":-6,"h3":6,"ns":2.7,"es":2.0,"hs":2.7},
{"t":292,"n1":-2,"n2":6,"n3":5,"e1":-1,"e2":5,"e3":3,"h1":-12,"h2":14,"h3":4,"ns":3.2,"es":2.0,"hs":2.8},
{"t":293,"n1":7,"n2":-3,"n3":3,"e1":5,"e2":1,"e3":2,"h1":-15,"h2":9,"h3":0,"ns":1.9,"es":2.0,"hs":2.8},
{"t":294,"n1":-4,"n2":8,"n3":1,"e1":2,"e2":6,"e3":0,"h1":-14,"h2":4,"h3":8,"ns":3.4,"es":2.0,"hs":2.8},
{"t":295,"n1":12,"n2":-2,"n3":4,"e1":-2,"e2":4,"e3":4,"h1":11,"h2":-7,"h3":2,"ns":2.5,"es":2.0,"hs":2.9},
{"t":296,"n1":-3,"n2":6,"n3":2,"e1":6,"e2":-1,"e3":2,"h1":24.5,"h2":-9,"h3":5,"ns":3.0,"es":2.0,"hs":2.9},
{"t":297,"n1":7,"n2":-4,"n3":3,"e1":3,"e2":5,"e3":1,"h1":-17,"h2":8,"h3":7,"ns":2.1,"es":2.0,"hs":2.9},
{"t":298,"n1":12.5,"n2":-3,"n3":5,"e1":-1,"e2":2,"e3":3,"h1":13,"h2":-5,"h3":1,"ns":3.5,"es":2.0,"hs":2.9},
{"t":299,"n1":-2,"n2":7,"n3":1,"e1":5,"e2":6,"e3":2,"h1":-9,"h2":15,"h3":4,"ns":2.6,"es":2.0,"hs":2.9},
{"t":300,"n1":6,"n2":-4,"n3":4,"e1":2,"e2":-2,"e3":4,"h1":34.5,"h2":-11,"h3":6,"ns":3.1,"es":2.0,"hs":2.9},
{"t":301,"n1":29,"n2":-3,"n3":2,"e1":6,"e2":4,"e3":0,"h1":-7,"h2":10,"h3":-1,"ns":2.0,"es":2.0,"hs":2.9},
{"t":302,"n1":-4,"n2":8,"n3":0,"e1":-1,"e2":5,"e3":2,"h1":14,"h2":-13,"h3":8,"ns":3.3,"es":2.0,"hs":2.9},
{"t":303,"n1":7,"n2":-2,"n3":3,"e1":4,"e2":0,"e3":3,"h1":-12,"h2":6,"h3":3,"ns":2.4,"es":1.9,"hs":2.9},
{"t":304,"n1":-3,"n2":6,"n3":4,"e1":6,"e2":3,"e3":1,"h1":-17,"h2":12,"h3":5,"ns":2.9,"es":1.9,"hs":2.9},
{"t":305,"n1":-14,"n2":14.5,"n3":1,"e1":1,"e2":-2,"e3":2,"h1":8,"h2":-6,"h3":0,"ns":1.8,"es":1.9,"hs":2.9},
{"t":306,"n1":8,"n2":-3,"n3":5,"e1":5,"e2":5,"e3":4,"h1":-16,"h2":13,"h3":6,"ns":3.2,"es":1.9,"hs":2.8},
{"t":307,"n1":-2,"n2":7,"n3":2,"e1":-2,"e2":4,"e3":0,"h1":28,"h2":-10,"h3":2,"ns":2.3,"es":1.9,"hs":2.8},
{"t":308,"n1":6,"n2":-4,"n3":3,"e1":13,"e2":1,"e3":2,"h1":-14,"h2":9,"h3":7,"ns":2.7,"es":1.8,"hs":2.8},
{"t":309,"n1":-8,"n2":7,"n3":0,"e1":4,"e2":-2,"e3":3,"h1":11,"h2":-4,"h3":4,"ns":1.5,"es":1.8,"hs":2.7},
{"t":310,"n1":7,"n2":-2,"n3":4,"e1":6,"e2":4,"e3":1,"h1":24,"h2":-12,"h3":-1,"ns":3.0,"es":1.8,"hs":2.7},
{"t":311,"n1":-3,"n2":6,"n3":2,"e1":0,"e2":5,"e3":4,"h1":-8,"h2":14,"h3":6,"ns":2.2,"es":1.8,"hs":2.6},
{"t":312,"n1":-9,"n2":8,"n3":1,"e1":5,"e2":-2,"e3":2,"h1":13,"h2":-7,"h3":3,"ns":2.6,"es":1.7,"hs":2.6},
{"t":313,"n1":6,"n2":-3,"n3":3,"e1":2,"e2":6,"e3":0,"h1":22,"h2":-11,"h3":5,"ns":1.4,"es":1.7,"hs":2.5},
{"t":314,"n1":-4,"n2":7,"n3":5,"e1":-2,"e2":3,"e3":3,"h1":-6,"h2":10,"h3":1,"ns":2.9,"es":1.7,"hs":2.5},
{"t":315,"n1":14.5,"n2":-2,"n3":2,"e1":6,"e2":1,"e3":2,"h1":12,"h2":-14,"h3":7,"ns":2.1,"es":1.7,"hs":2.4},
{"t":316,"n1":-3,"n2":6,"n3":0,"e1":3,"e2":-2,"e3":1,"h1":58,"h2":-5,"h3":0,"ns":2.5,"es":1.6,"hs":2.4},
{"t":317,"n1":7,"n2":-4,"n3":3,"e1":-1,"e2":5,"e3":3,"h1":-12,"h2":11,"h3":4,"ns":1.3,"es":1.6,"hs":2.3},
{"t":318,"n1":-2,"n2":6,"n3":1,"e1":5,"e2":3,"e3":2,"h1":9,"h2":-9,"h3":6,"ns":2.7,"es":1.6,"hs":2.3},
{"t":319,"n1":9,"n2":-3,"n3":4,"e1":2,"e2":-1,"e3":0,"h1":-14,"h2":6,"h3":2,"ns":1.9,"es":1.6,"hs":2.2},
{"t":320,"n1":-4,"n2":5,"n3":2,"e1":-2,"e2":4,"e3":4,"h1":14,"h2":-4,"h3":-2,"ns":1.4,"es":1.6,"hs":2.2},
{"t":321,"n1":6,"n2":-3,"n3":0,"e1":5,"e2":0,"e3":1,"h1":-9,"h2":13,"h3":5,"ns":0.8,"es":1.5,"hs":2.1},
{"t":322,"n1":-5,"n2":4,"n3":3,"e1":1,"e2":5,"e3":2,"h1":58,"h2":-12,"h3":3,"ns":1.6,"es":1.5,"hs":2.1},
{"t":323,"n1":5,"n2":-6,"n3":1,"e1":4,"e2":-2,"e3":3,"h1":7,"h2":-6,"h3":0,"ns":0.3,"es":1.5,"hs":2.0},
{"t":324,"n1":-3,"n2":6,"n3":2,"e1":-1,"e2":3,"e3":0,"h1":-11,"h2":10,"h3":6,"ns":1.9,"es":1.5,"hs":2.0},
{"t":325,"n1":6,"n2":-4,"n3":-1,"e1":5,"e2":4,"e3":2,"h1":12,"h2":-14,"h3":1,"ns":1.0,"es":1.5,"hs":1.9},
{"t":326,"n1":-6,"n2":3,"n3":3,"e1":2,"e2":-2,"e3":1,"h1":-7,"h2":5,"h3":4,"ns":0.6,"es":1.5,"hs":1.9},
{"t":327,"n1":5,"n2":-2,"n3":1,"e1":-2,"e2":5,"e3":3,"h1":10,"h2":-9,"h3":-2,"ns":1.7,"es":1.5,"hs":1.8},
{"t":328,"n1":-13,"n2":6,"n3":0,"e1":-6.5,"e2":3,"e3":2,"h1":-11.5,"h2":14,"h3":5,"ns":0.9,"es":1.5,"hs":1.8},
{"t":329,"n1":6,"n2":-4,"n3":2,"e1":5,"e2":-1,"e3":0,"h1":5,"h2":-4,"h3":2,"ns":1.3,"es":1.5,"hs":1.7},
{"t":330,"n1":-11,"n2":5,"n3":3,"e1":-7.5,"e2":4,"e3":1,"h1":13,"h2":-10,"h3":-1,"ns":-0.2,"es":1.5,"hs":1.7},
{"t":331,"n1":5,"n2":-3,"n3":-1,"e1":2,"e2":5,"e3":3,"h1":-6,"h2":8,"h3":4,"ns":1.5,"es":1.5,"hs":1.6},
{"t":332,"n1":-4,"n2":6,"n3":1,"e1":5,"e2":-2,"e3":2,"h1":11,"h2":-13,"h3":0,"ns":0.7,"es":1.5,"hs":1.5},
{"t":333,"n1":6,"n2":-5,"n3":2,"e1":-1,"e2":3,"e3":4,"h1":-14,"h2":6,"h3":3,"ns":1.2,"es":1.5,"hs":1.4},
{"t":334,"n1":-3,"n2":4,"n3":0,"e1":4,"e2":0,"e3":0,"h1":8,"h2":-3,"h3":-3,"ns":-0.4,"es":1.5,"hs":1.3},
{"t":335,"n1":5,"n2":-6,"n3":3,"e1":2,"e2":5,"e3":1,"h1":-12.5,"h2":12,"h3":5,"ns":1.6,"es":1.5,"hs":1.3},
{"t":336,"n1":-12.5,"n2":6,"n3":-1,"e1":5,"e2":-2,"e3":3,"h1":26,"h2":-8,"h3":1,"ns":1.0,"es":1.5,"hs":1.2},
{"t":337,"n1":6,"n2":-3,"n3":2,"e1":-2,"e2":4,"e3":2,"h1":-9,"h2":6,"h3":-2,"ns":1.4,"es":1.5,"hs":1.1},
{"t":338,"n1":-4,"n2":5,"n3":1,"e1":4,"e2":1,"e3":0,"h1":10,"h2":-14,"h3":4,"ns":0.2,"es":1.5,"hs":1.0},
{"t":339,"n1":5,"n2":-5,"n3":0,"e1":1,"e2":5,"e3":3,"h1":-5,"h2":13,"h3":0,"ns":1.8,"es":1.5,"hs":0.9},
{"t":340,"n1":-5,"n2":4,"n3":3,"e1":5,"e2":-2,"e3":1,"h1":14,"h2":-7,"h3":3,"ns":0.8,"es":1.5,"hs":0.9},
{"t":341,"n1":6,"n2":-2,"n3":-1,"e1":-1,"e2":3,"e3":2,"h1":20.5,"h2":-11,"h3":-4,"ns":1.3,"es":1.5,"hs":0.8},
{"t":342,"n1":-10,"n2":5,"n3":2,"e1":4,"e2":6,"e3":4,"h1":-8,"h2":7,"h3":2,"ns":0.5,"es":1.5,"hs":0.7},
{"t":343,"n1":4,"n2":-6,"n3":1,"e1":2,"e2":-2,"e3":0,"h1":11,"h2":-13,"h3":-1,"ns":1.7,"es":1.5,"hs":0.7},
{"t":344,"n1":-3,"n2":6,"n3":3,"e1":7,"e2":3,"e3":2,"h1":-12,"h2":4,"h3":5,"ns":0.9,"es":1.5,"hs":0.6},
{"t":345,"n1":6,"n2":-4,"n3":0,"e1":-2,"e2":5,"e3":1,"h1":6,"h2":-6,"h3":-3,"ns":1.2,"es":1.5,"hs":0.5},
{"t":346,"n1":-5,"n2":3,"n3":-1,"e1":5,"e2":0,"e3":3,"h1":-10,"h2":12,"h3":1,"ns":-0.3,"es":1.5,"hs":0.5},
{"t":347,"n1":5,"n2":-3,"n3":2,"e1":1,"e2":4,"e3":2,"h1":13,"h2":-4,"h3":3,"ns":1.6,"es":1.5,"hs":0.4},
{"t":348,"n1":-14.5,"n2":6,"n3":1,"e1":4,"e2":-2,"e3":0,"h1":-7,"h2":9,"h3":-2,"ns":0.7,"es":1.5,"hs":0.4},
{"t":349,"n1":6,"n2":-5,"n3":3,"e1":-1,"e2":5,"e3":3,"h1":10,"h2":-12,"h3":4,"ns":1.1,"es":1.5,"hs":0.3},
{"t":350,"n1":-3,"n2":4,"n3":0,"e1":5,"e2":2,"e3":1,"h1":-13,"h2":6,"h3":-4,"ns":-0.6,"es":1.5,"hs":0.3},
{"t":351,"n1":5,"n2":-6,"n3":-1,"e1":2,"e2":-2,"e3":2,"h1":8,"h2":-5,"h3":1,"ns":1.5,"es":1.5,"hs":0.3},
{"t":352,"n1":-4,"n2":6,"n3":2,"e1":-2,"e2":4,"e3":4,"h1":-6,"h2":14,"h3":2,"ns":0.8,"es":1.5,"hs":0.2},
{"t":353,"n1":6,"n2":-2,"n3":1,"e1":5,"e2":0,"e3":1,"h1":24,"h2":-10,"h3":-3,"ns":1.3,"es":1.5,"hs":0.2},
{"t":354,"n1":8,"n2":-5,"n3":0,"e1":7.5,"e2":-1,"e3":0,"h1":-16,"h2":-12,"h3":5,"ns":0.2,"es":1.5,"hs":0.2},
{"t":355,"n1":-4,"n2":5,"n3":3,"e1":3,"e2":5,"e3":3,"h1":9,"h2":-3,"h3":-1,"ns":1.6,"es":1.5,"hs":0.2},
{"t":356,"n1":5,"n2":-6,"n3":-1,"e1":-1,"e2":4,"e3":2,"h1":-11,"h2":7,"h3":0,"ns":0.5,"es":1.5,"hs":0.2},
{"t":357,"n1":-8,"n2":4,"n3":1,"e1":5,"e2":-2,"e3":1,"h1":6,"h2":-15,"h3":3,"ns":1.1,"es":1.5,"hs":0.2},
{"t":358,"n1":6,"n2":-9,"n3":2,"e1":2,"e2":4,"e3":3,"h1":-9,"h2":11,"h3":-2,"ns":-0.5,"es":1.5,"hs":0.2},
{"t":359,"n1":-3,"n2":5,"n3":0,"e1":-1,"e2":3,"e3":0,"h1":4,"h2":-6,"h3":1,"ns":0.7,"es":1.5,"hs":0.2}
]},
"vconcat": [
{
 "width": 450, "height": 177,
 "title": {"text": "(a)　緯度方向", "offset": 12},
 "resolve": {"axis": {"x": "independent", "y": "independent"}},
 "layer": [
  {"data": {"name": "gps"}, "mark": "point", "encoding": {
    "x": {"field": "t", "type": "quantitative", "scale": {"domain": [0, 365], "nice": false, "zero": false}, "axis": {"values": [0, 60, 121, 182, 243, 304, 365], "grid": true, "title": null, "labelFlush": false, "labelOverlap": false, "labelExpr": "datum.value == 0 ? '2000. 10. 1' : datum.value == 60 ? '2000. 11. 30' : datum.value == 121 ? '2001. 1. 30' : datum.value == 182 ? '2001. 4. 1' : datum.value == 243 ? '2001. 6. 1' : datum.value == 304 ? '2001. 8. 1' : '2001. 10. 1'"}},
    "y": {"field": "n1", "type": "quantitative", "scale": {"domain": [-60, 60], "nice": false, "zero": false}, "axis": {"values": [-60, -40, -20, 0, 20, 40, 60], "grid": true, "title": "緯度方向変位 (mm)"}}}},
  {"data": {"name": "gps"}, "mark": "point", "encoding": {"x": {"field": "t", "type": "quantitative", "axis": null}, "y": {"field": "n2", "type": "quantitative", "axis": null}}},
  {"data": {"name": "gps"}, "mark": "point", "encoding": {"x": {"field": "t", "type": "quantitative", "axis": null}, "y": {"field": "n3", "type": "quantitative", "axis": null}}},
  {"data": {"name": "gps"}, "transform": [{"filter": "datum.t < 124"}], "mark": "line", "encoding": {"x": {"field": "t", "type": "quantitative", "axis": null}, "y": {"field": "ns", "type": "quantitative", "axis": null}}},
  {"data": {"name": "gps"}, "transform": [{"filter": "datum.t > 124"}], "mark": "line", "encoding": {"x": {"field": "t", "type": "quantitative", "axis": null}, "y": {"field": "ns", "type": "quantitative", "axis": null}}},
  {"data": {"values": [{}]}, "mark": "rect", "encoding": {
    "x": {"datum": 174.5, "axis": {"orient": "bottom", "values": [12, 24, 36, 48, 72.2, 84.4, 96.6, 108.8, 133.2, 145.4, 157.6, 169.8, 194.2, 206.4, 218.6, 230.8, 255.2, 267.4, 279.6, 291.8, 316.2, 328.4, 340.6, 352.8], "labels": false, "grid": false, "domain": false, "tickSize": 3, "title": null}},
    "x2": {"datum": 247},
    "y": {"datum": -19.8, "axis": {"orient": "left", "values": [-56, -52, -48, -44, -36, -32, -28, -24, -16, -12, -8, -4, 4, 8, 12, 16, 24, 28, 32, 36, 44, 48, 52, 56], "labels": false, "grid": false, "domain": false, "tickSize": -4, "title": null}},
    "y2": {"datum": -56.6}}},
  {"data": {"values": [{}]}, "mark": {"type": "text", "text": "k=1"}, "encoding": {"x": {"datum": 185, "axis": null}, "y": {"datum": -26.6, "axis": null}}},
  {"data": {"values": [{}]}, "mark": {"type": "text", "text": "τ =1.4(mm)"}, "encoding": {"x": {"datum": 185, "axis": null}, "y": {"datum": -38.8, "axis": null}}},
  {"data": {"values": [{}]}, "mark": {"type": "text", "text": "σ =4.0(mm)"}, "encoding": {"x": {"datum": 185, "axis": null}, "y": {"datum": -51.0, "axis": null}}},
  {"data": {"values": [{}]}, "mark": "rect", "encoding": {"x": {"datum": 257.3, "axis": null}, "x2": {"datum": 360}, "y": {"datum": -18.4, "axis": null}, "y2": {"datum": -53}}},
  {"data": {"values": [{}]}, "mark": "point", "encoding": {"x": {"datum": 275.9, "axis": null}, "y": {"datum": -28.1, "axis": null}}},
  {"data": {"values": [{}]}, "mark": {"type": "text", "text": "計測値", "fontSize": 15}, "encoding": {"x": {"datum": 292.2, "axis": null}, "y": {"datum": -27.5, "axis": null}}},
  {"data": {"values": [{}]}, "mark": {"type": "text", "text": "平滑化結果", "fontSize": 15}, "encoding": {"x": {"datum": 292.2, "axis": null}, "y": {"datum": -45.6, "axis": null}}},
  {"data": {"values": [{}]}, "mark": {"type": "rect", "color": "#2a2a2a", "strokeWidth": 0}, "encoding": {"x": {"datum": 260.8, "axis": null}, "x2": {"datum": 284.3}, "y": {"datum": -38.8, "axis": null}, "y2": {"datum": -49.2}}},
  {"data": {"values": [{}]}, "mark": "rule", "encoding": {"x": {"datum": 267.6, "axis": null}, "x2": {"datum": 277.4}, "y": {"datum": -43.9, "axis": null}}}
 ]
},
{
 "width": 450, "height": 182,
 "title": {"text": "(b)　経度方向", "offset": 13},
 "resolve": {"axis": {"x": "independent", "y": "independent"}},
 "layer": [
  {"data": {"name": "gps"}, "mark": "point", "encoding": {
    "x": {"field": "t", "type": "quantitative", "scale": {"domain": [0, 365], "nice": false, "zero": false}, "axis": {"values": [0, 60, 121, 182, 243, 304, 365], "grid": true, "title": null, "labelFlush": false, "labelOverlap": false, "labelExpr": "datum.value == 0 ? '2000. 10. 1' : datum.value == 60 ? '2000. 11. 30' : datum.value == 121 ? '2001. 1. 30' : datum.value == 182 ? '2001. 4. 1' : datum.value == 243 ? '2001. 6. 1' : datum.value == 304 ? '2001. 8. 1' : '2001. 10. 1'"}},
    "y": {"field": "e1", "type": "quantitative", "scale": {"domain": [-60, 60], "nice": false, "zero": false}, "axis": {"values": [-60, -40, -20, 0, 20, 40, 60], "grid": true, "title": "経度方向変位 (mm)"}}}},
  {"data": {"name": "gps"}, "mark": "point", "encoding": {"x": {"field": "t", "type": "quantitative", "axis": null}, "y": {"field": "e2", "type": "quantitative", "axis": null}}},
  {"data": {"name": "gps"}, "mark": "point", "encoding": {"x": {"field": "t", "type": "quantitative", "axis": null}, "y": {"field": "e3", "type": "quantitative", "axis": null}}},
  {"data": {"name": "gps"}, "transform": [{"filter": "datum.t < 124"}], "mark": "line", "encoding": {"x": {"field": "t", "type": "quantitative", "axis": null}, "y": {"field": "es", "type": "quantitative", "axis": null}}},
  {"data": {"name": "gps"}, "transform": [{"filter": "datum.t > 124"}], "mark": "line", "encoding": {"x": {"field": "t", "type": "quantitative", "axis": null}, "y": {"field": "es", "type": "quantitative", "axis": null}}},
  {"data": {"values": [{}]}, "mark": "rect", "encoding": {
    "x": {"datum": 181.1, "axis": {"orient": "bottom", "values": [12, 24, 36, 48, 72.2, 84.4, 96.6, 108.8, 133.2, 145.4, 157.6, 169.8, 194.2, 206.4, 218.6, 230.8, 255.2, 267.4, 279.6, 291.8, 316.2, 328.4, 340.6, 352.8], "labels": false, "grid": false, "domain": false, "tickSize": 3, "title": null}},
    "x2": {"datum": 252.8},
    "y": {"datum": -10.7, "axis": {"orient": "left", "values": [-56, -52, -48, -44, -36, -32, -28, -24, -16, -12, -8, -4, 4, 8, 12, 16, 24, 28, 32, 36, 44, 48, 52, 56], "labels": false, "grid": false, "domain": false, "tickSize": -4, "title": null}},
    "y2": {"datum": -47.6}}},
  {"data": {"values": [{}]}, "mark": {"type": "text", "text": "k=1"}, "encoding": {"x": {"datum": 190, "axis": null}, "y": {"datum": -18.2, "axis": null}}},
  {"data": {"values": [{}]}, "mark": {"type": "text", "text": "τ =0.1(mm)"}, "encoding": {"x": {"datum": 190, "axis": null}, "y": {"datum": -30.1, "axis": null}}},
  {"data": {"values": [{}]}, "mark": {"type": "text", "text": "σ =2.7(mm)"}, "encoding": {"x": {"datum": 190, "axis": null}, "y": {"datum": -42.0, "axis": null}}},
  {"data": {"values": [{}]}, "mark": "rect", "encoding": {"x": {"datum": 259.5, "axis": null}, "x2": {"datum": 360.1}, "y": {"datum": -18, "axis": null}, "y2": {"datum": -51.6}}},
  {"data": {"values": [{}]}, "mark": "point", "encoding": {"x": {"datum": 277.1, "axis": null}, "y": {"datum": -26.2, "axis": null}}},
  {"data": {"values": [{}]}, "mark": {"type": "text", "text": "計測値", "fontSize": 15}, "encoding": {"x": {"datum": 294, "axis": null}, "y": {"datum": -26.2, "axis": null}}},
  {"data": {"values": [{}]}, "mark": {"type": "text", "text": "平滑化結果", "fontSize": 15}, "encoding": {"x": {"datum": 294, "axis": null}, "y": {"datum": -43.3, "axis": null}}},
  {"data": {"values": [{}]}, "mark": {"type": "rect", "color": "#2a2a2a", "strokeWidth": 0}, "encoding": {"x": {"datum": 263.6, "axis": null}, "x2": {"datum": 288.7}, "y": {"datum": -36.7, "axis": null}, "y2": {"datum": -47.6}}},
  {"data": {"values": [{}]}, "mark": "rule", "encoding": {"x": {"datum": 271.3, "axis": null}, "x2": {"datum": 281.1}, "y": {"datum": -42.2, "axis": null}}}
 ]
},
{
 "width": 450, "height": 181,
 "title": {"text": "(c)　高さ方向", "offset": 8},
 "resolve": {"axis": {"x": "independent", "y": "independent"}},
 "layer": [
  {"data": {"name": "gps"}, "mark": "point", "encoding": {
    "x": {"field": "t", "type": "quantitative", "scale": {"domain": [0, 365], "nice": false, "zero": false}, "axis": {"values": [0, 60, 121, 182, 243, 304, 365], "grid": true, "title": null, "labelFlush": false, "labelOverlap": false, "labelExpr": "datum.value == 0 ? '2000. 10. 1' : datum.value == 60 ? '2000. 11. 30' : datum.value == 121 ? '2001. 1. 30' : datum.value == 182 ? '2001. 4. 1' : datum.value == 243 ? '2001. 6. 1' : datum.value == 304 ? '2001. 8. 1' : '2001. 10. 1'"}},
    "y": {"field": "h1", "type": "quantitative", "scale": {"domain": [-60, 60], "nice": false, "zero": false}, "axis": {"values": [-60, -40, -20, 0, 20, 40, 60], "grid": true, "title": "高さ方向変位 (mm)"}}}},
  {"data": {"name": "gps"}, "mark": "point", "encoding": {"x": {"field": "t", "type": "quantitative", "axis": null}, "y": {"field": "h2", "type": "quantitative", "axis": null}}},
  {"data": {"name": "gps"}, "mark": "point", "encoding": {"x": {"field": "t", "type": "quantitative", "axis": null}, "y": {"field": "h3", "type": "quantitative", "axis": null}}},
  {"data": {"name": "gps"}, "transform": [{"filter": "datum.t < 124"}], "mark": "line", "encoding": {"x": {"field": "t", "type": "quantitative", "axis": null}, "y": {"field": "hs", "type": "quantitative", "axis": null}}},
  {"data": {"name": "gps"}, "transform": [{"filter": "datum.t > 124"}], "mark": "line", "encoding": {"x": {"field": "t", "type": "quantitative", "axis": null}, "y": {"field": "hs", "type": "quantitative", "axis": null}}},
  {"data": {"values": [{}]}, "mark": "rect", "encoding": {
    "x": {"datum": 172.3, "axis": {"orient": "bottom", "values": [12, 24, 36, 48, 72.2, 84.4, 96.6, 108.8, 133.2, 145.4, 157.6, 169.8, 194.2, 206.4, 218.6, 230.8, 255.2, 267.4, 279.6, 291.8, 316.2, 328.4, 340.6, 352.8], "labels": false, "grid": false, "domain": false, "tickSize": 3, "title": null}},
    "x2": {"datum": 244},
    "y": {"datum": -16.3, "axis": {"orient": "left", "values": [-56, -52, -48, -44, -36, -32, -28, -24, -16, -12, -8, -4, 4, 8, 12, 16, 24, 28, 32, 36, 44, 48, 52, 56], "labels": false, "grid": false, "domain": false, "tickSize": -4, "title": null}},
    "y2": {"datum": -52.7}}},
  {"data": {"values": [{}]}, "mark": {"type": "text", "text": "k=1"}, "encoding": {"x": {"datum": 181.3, "axis": null}, "y": {"datum": -23.2, "axis": null}}},
  {"data": {"values": [{}]}, "mark": {"type": "text", "text": "τ =0.1(mm)"}, "encoding": {"x": {"datum": 181.3, "axis": null}, "y": {"datum": -35.2, "axis": null}}},
  {"data": {"values": [{}]}, "mark": {"type": "text", "text": "σ =7.4(mm)"}, "encoding": {"x": {"datum": 181.3, "axis": null}, "y": {"datum": -47.1, "axis": null}}},
  {"data": {"values": [{}]}, "mark": "rect", "encoding": {"x": {"datum": 256.5, "axis": null}, "x2": {"datum": 359.6}, "y": {"datum": -22.9, "axis": null}, "y2": {"datum": -56}}},
  {"data": {"values": [{}]}, "mark": "point", "encoding": {"x": {"datum": 273.9, "axis": null}, "y": {"datum": -31.7, "axis": null}}},
  {"data": {"values": [{}]}, "mark": {"type": "text", "text": "計測値", "fontSize": 15}, "encoding": {"x": {"datum": 292, "axis": null}, "y": {"datum": -31.5, "axis": null}}},
  {"data": {"values": [{}]}, "mark": {"type": "text", "text": "平滑化結果", "fontSize": 15}, "encoding": {"x": {"datum": 292, "axis": null}, "y": {"datum": -48.3, "axis": null}}},
  {"data": {"values": [{}]}, "mark": {"type": "rect", "color": "#2a2a2a", "strokeWidth": 0}, "encoding": {"x": {"datum": 260.7, "axis": null}, "x2": {"datum": 286.6}, "y": {"datum": -43.4, "axis": null}, "y2": {"datum": -52.7}}},
  {"data": {"values": [{}]}, "mark": "rule", "encoding": {"x": {"datum": 268.7, "axis": null}, "x2": {"datum": 278.5}, "y": {"datum": -48.1, "axis": null}}}
 ]
}
]
}
